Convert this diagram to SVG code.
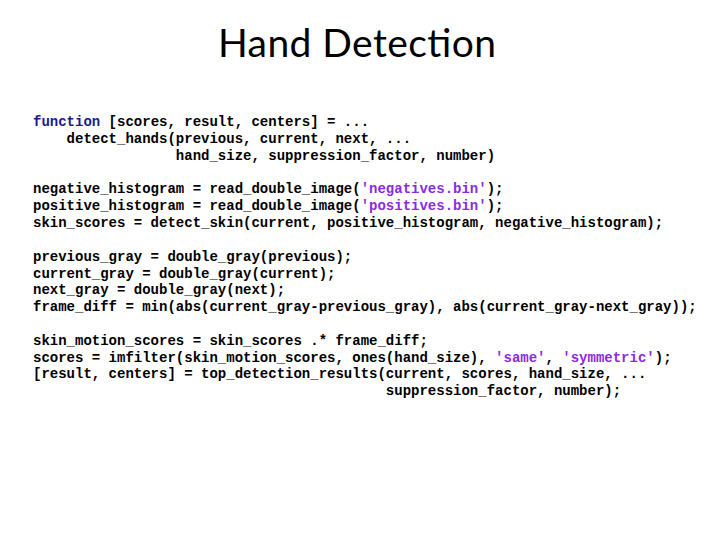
<svg xmlns="http://www.w3.org/2000/svg" width="720" height="540" viewBox="0 0 720 540">
<style>
.c{font-family:"Liberation Mono","Courier New",monospace;font-size:14px;font-weight:bold;fill:#000;white-space:pre}
.k{fill:#1a1a8c}.s{fill:#8a2be2}
.t{font-family:Lato,"Liberation Sans",sans-serif;font-size:39px;fill:#000}
</style>
<rect width="720" height="540" fill="#fff"/>
<text class="t" x="357" y="57" text-anchor="middle" textLength="278">Hand Detection</text>
<g id="code" class="c">
<text x="33" y="126" xml:space="preserve"><tspan class="k">function</tspan> [scores, result, centers] = ...</text>
<text x="33" y="143" xml:space="preserve">    detect_hands(previous, current, next, ...</text>
<text x="33" y="160" xml:space="preserve">                 hand_size, suppression_factor, number)</text>
<text x="33" y="193" xml:space="preserve">negative_histogram = read_double_image(<tspan class="s">'negatives.bin'</tspan>);</text>
<text x="33" y="210" xml:space="preserve">positive_histogram = read_double_image(<tspan class="s">'positives.bin'</tspan>);</text>
<text x="33" y="227" xml:space="preserve">skin_scores = detect_skin(current, positive_histogram, negative_histogram);</text>
<text x="33" y="261" xml:space="preserve">previous_gray = double_gray(previous);</text>
<text x="33" y="278" xml:space="preserve">current_gray = double_gray(current);</text>
<text x="33" y="294" xml:space="preserve">next_gray = double_gray(next);</text>
<text x="33" y="311" xml:space="preserve">frame_diff = min(abs(current_gray-previous_gray), abs(current_gray-next_gray));</text>
<text x="33" y="345" xml:space="preserve">skin_motion_scores = skin_scores .* frame_diff;</text>
<text x="33" y="362" xml:space="preserve">scores = imfilter(skin_motion_scores, ones(hand_size), <tspan class="s">'same'</tspan>, <tspan class="s">'symmetric'</tspan>);</text>
<text x="33" y="378" xml:space="preserve">[result, centers] = top_detection_results(current, scores, hand_size, ...</text>
<text x="33" y="395" xml:space="preserve">                                          suppression_factor, number);</text>
</g>
</svg>
